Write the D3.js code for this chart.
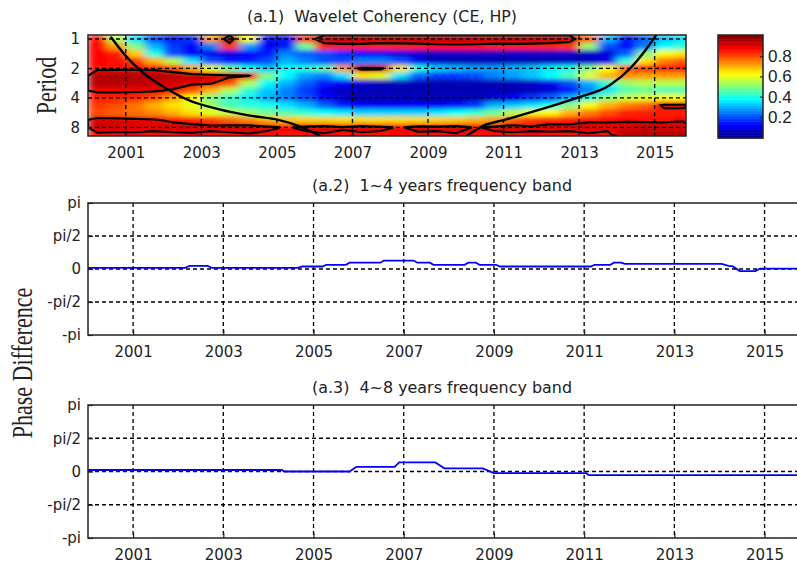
<!DOCTYPE html>
<html>
<head>
<meta charset="utf-8">
<script src="https://cdn.jsdelivr.net/npm/d3@7"></script>
<style>
  body { margin: 0; background: #fff; }
  svg { display: block; }
  text { font-family: "DejaVu Sans", Arial, sans-serif; fill: #222; white-space: pre; }
</style>
</head>
<body>
<div id="chart"></div>
<script>
// --- data ---
const yearTicks = [2001, 2003, 2005, 2007, 2009, 2011, 2013, 2015];
const periodTicks = [1, 2, 4, 8];
const cbarTicks = [0.2, 0.4, 0.6, 0.8];
const phaseTicks = [-Math.PI, -Math.PI / 2, 0, Math.PI / 2, Math.PI];
const phaseTickLabels = ["-pi", "-pi/2", "0", "pi/2", "pi"];

// heatmap cell centres (years) and rows (periods, top to bottom)
const cellYears = [2000.25, 2000.75, 2001.25, 2001.75, 2002.25, 2002.75, 2003.25, 2003.75,
  2004.25, 2004.75, 2005.25, 2005.75, 2006.25, 2006.75, 2007.25, 2007.75,
  2008.25, 2008.75, 2009.25, 2009.75, 2010.25, 2010.75, 2011.25, 2011.75,
  2012.25, 2012.75, 2013.25, 2013.75, 2014.25, 2014.75, 2015.25, 2015.75];
const periods = [1, 1.19, 1.41, 1.68, 2, 2.38, 2.83, 3.36, 4, 4.76, 5.66, 6.73, 8, 9.51];

// wavelet coherency, one row per period
const coherency = [
  [0.86,0.55,0.35,0.20,0.15,0.18,0.72,0.95,0.62,0.15,0.15,0.82,0.93,0.94,0.94,0.93,0.94,0.93,0.93,0.94,0.93,0.93,0.94,0.93,0.93,0.92,0.78,0.30,0.15,0.22,0.32,0.35],
  [0.87,0.72,0.50,0.30,0.18,0.12,0.25,0.82,0.28,0.12,0.15,0.48,0.84,0.85,0.85,0.84,0.84,0.85,0.86,0.86,0.86,0.85,0.85,0.85,0.84,0.82,0.52,0.20,0.12,0.25,0.38,0.42],
  [0.87,0.85,0.68,0.40,0.20,0.12,0.10,0.10,0.12,0.15,0.25,0.22,0.20,0.16,0.13,0.11,0.09,0.08,0.06,0.06,0.06,0.06,0.06,0.06,0.06,0.06,0.06,0.08,0.22,0.50,0.62,0.65],
  [0.87,0.86,0.82,0.70,0.55,0.35,0.20,0.15,0.15,0.20,0.30,0.25,0.20,0.20,0.25,0.25,0.20,0.10,0.06,0.04,0.04,0.04,0.04,0.04,0.05,0.06,0.06,0.10,0.40,0.65,0.75,0.78],
  [0.86,0.86,0.86,0.86,0.82,0.72,0.60,0.48,0.38,0.32,0.38,0.40,0.45,0.72,0.93,0.92,0.65,0.40,0.32,0.30,0.28,0.28,0.30,0.32,0.36,0.40,0.50,0.62,0.78,0.84,0.86,0.87],
  [0.95,0.96,0.96,0.95,0.94,0.93,0.92,0.90,0.89,0.50,0.38,0.28,0.25,0.35,0.65,0.60,0.35,0.22,0.18,0.18,0.20,0.25,0.28,0.32,0.38,0.45,0.60,0.70,0.74,0.72,0.72,0.72],
  [0.95,0.95,0.94,0.93,0.92,0.90,0.89,0.80,0.55,0.38,0.30,0.22,0.15,0.12,0.08,0.06,0.05,0.04,0.04,0.04,0.04,0.04,0.05,0.06,0.10,0.20,0.30,0.42,0.52,0.55,0.55,0.55],
  [0.89,0.89,0.89,0.89,0.87,0.80,0.70,0.55,0.42,0.32,0.25,0.18,0.10,0.05,0.04,0.04,0.04,0.04,0.04,0.04,0.04,0.04,0.04,0.05,0.08,0.15,0.25,0.35,0.45,0.48,0.45,0.45],
  [0.85,0.85,0.84,0.80,0.72,0.62,0.50,0.42,0.36,0.30,0.25,0.20,0.12,0.08,0.05,0.05,0.05,0.05,0.05,0.05,0.05,0.08,0.12,0.18,0.22,0.30,0.42,0.52,0.58,0.60,0.62,0.62],
  [0.82,0.80,0.76,0.70,0.65,0.60,0.52,0.45,0.42,0.40,0.35,0.30,0.22,0.15,0.12,0.12,0.12,0.12,0.12,0.14,0.18,0.30,0.32,0.35,0.40,0.50,0.62,0.70,0.75,0.78,0.90,0.90],
  [0.80,0.78,0.76,0.74,0.70,0.65,0.60,0.56,0.52,0.48,0.45,0.42,0.38,0.35,0.33,0.33,0.33,0.33,0.35,0.38,0.42,0.48,0.55,0.60,0.62,0.70,0.75,0.80,0.84,0.85,0.85,0.85],
  [0.91,0.91,0.90,0.89,0.86,0.84,0.82,0.78,0.74,0.70,0.68,0.67,0.67,0.66,0.66,0.66,0.66,0.66,0.67,0.68,0.70,0.72,0.78,0.82,0.84,0.85,0.86,0.87,0.87,0.86,0.86,0.87],
  [0.93,0.92,0.90,0.90,0.92,0.91,0.90,0.92,0.93,0.90,0.87,0.90,0.92,0.89,0.92,0.90,0.87,0.91,0.90,0.92,0.87,0.90,0.92,0.89,0.91,0.90,0.92,0.90,0.91,0.93,0.92,0.92],
  [0.86,0.86,0.87,0.86,0.86,0.87,0.86,0.86,0.87,0.86,0.86,0.86,0.87,0.86,0.86,0.86,0.87,0.86,0.86,0.87,0.86,0.86,0.86,0.87,0.86,0.86,0.87,0.86,0.95,0.95,0.95,0.95]
];

// cone of influence [year, period]
const coiYears = [2000.6, 2000.98, 2001.42, 2002.13, 2002.65, 2003.45, 2004.33, 2005.04, 2005.6, 2006.15, 2006.6,
  2009.6, 2010.0, 2010.5, 2011.03, 2011.8, 2012.94, 2013.82, 2014.35, 2014.79, 2015.05];
const coiPeriods = [0.95, 1.46, 2.15, 3.3, 4.2, 5.2, 6.1, 6.7, 7.8, 9.8, 11.5,
  11.5, 9.8, 7.6, 6.7, 5.5, 4.0, 2.95, 2.0, 1.25, 0.9];

// phase difference, 1~4 years band
const band14Years = [2000.0, 2002.15, 2002.25, 2002.65, 2002.75, 2004.65, 2004.75, 2005.2, 2005.28, 2005.72, 2005.8,
  2006.48, 2006.56, 2007.22, 2007.3, 2007.58, 2007.66, 2008.35, 2008.43, 2008.6, 2008.68, 2009.05, 2009.13,
  2011.15, 2011.23, 2011.58, 2011.66, 2011.82, 2011.9, 2014.05, 2014.2, 2014.3, 2014.45, 2014.8, 2014.9, 2015.85];
const band14Phase = [0.05, 0.05, 0.15, 0.15, 0.05, 0.05, 0.12, 0.12, 0.2, 0.2, 0.3,
  0.3, 0.4, 0.4, 0.3, 0.3, 0.2, 0.2, 0.3, 0.3, 0.2, 0.2, 0.12,
  0.12, 0.2, 0.2, 0.3, 0.3, 0.24, 0.24, 0.15, 0.12, -0.1, -0.1, 0.02, 0.02];

// phase difference, 4~8 years band
const band48Years = [2000.0, 2004.3, 2004.35, 2005.8, 2005.95, 2006.8, 2006.9, 2007.7, 2007.78, 2007.9,
  2008.75, 2009.0, 2011.05, 2011.1, 2015.85];
const band48Phase = [0.07, 0.07, 0.0, 0.0, 0.22, 0.22, 0.43, 0.43, 0.32, 0.15,
  0.15, -0.08, -0.08, -0.17, -0.17];

// --- drawing ---
const W = 797, H = 565;
const svg = d3.select("#chart").append("svg").attr("width", W).attr("height", H);
const defs = svg.append("defs");

const jet = d3.scaleLinear()
  .domain([0, 0.125, 0.375, 0.625, 0.875, 1])
  .range(["#00008f", "#0000ff", "#00ffff", "#ffff00", "#ff0000", "#800000"])
  .clamp(true);

const dash = "4,3";

// ===== (a.1) heatmap =====
const hm = { left: 88, right: 686, top: 35, bottom: 136 };
const x1 = d3.scaleLinear().domain([2000, 2015.83]).range([hm.left, hm.right]);
const y1 = d3.scaleLog().base(2).domain([0.91, 9.8]).range([hm.top, hm.bottom]);

defs.append("clipPath").attr("id", "clipHm")
  .append("rect").attr("x", hm.left).attr("y", hm.top)
  .attr("width", hm.right - hm.left).attr("height", hm.bottom - hm.top);

// soften the cell edges a little, like the shaded original
const blur = defs.append("filter").attr("id", "soft")
  .attr("x", 0).attr("y", 0).attr("width", 1).attr("height", 1);
blur.append("feGaussianBlur").attr("stdDeviation", "4.5 2").attr("edgeMode", "duplicate");

// cell edges from neighbouring centres
const nx = cellYears.length, ny = periods.length;
const xEdges = cellYears.map((c, i) => i === 0 ? c - (cellYears[1] - c) / 2 : (cellYears[i - 1] + c) / 2);
xEdges.push(cellYears[nx - 1] + (cellYears[nx - 1] - cellYears[nx - 2]) / 2);
const lp = periods.map(p => Math.log2(p));
const lEdges = lp.map((l, i) => i === 0 ? l - (lp[1] - l) / 2 : (lp[i - 1] + l) / 2);
lEdges.push(lp[ny - 1] + (lp[ny - 1] - lp[ny - 2]) / 2);

const gHm = svg.append("g").attr("clip-path", "url(#clipHm)");
const cells = [];
coherency.forEach((row, j) => row.forEach((v, i) => cells.push({ i, j, v })));
gHm.append("g").attr("filter", "url(#soft)")
  .selectAll("rect.cell").data(cells).join("rect")
  .attr("class", "cell")
  .attr("x", d => x1(xEdges[d.i]))
  .attr("y", d => y1(Math.pow(2, lEdges[d.j])))
  .attr("width", d => x1(xEdges[d.i + 1]) - x1(xEdges[d.i]) + 0.6)
  .attr("height", d => y1(Math.pow(2, lEdges[d.j + 1])) - y1(Math.pow(2, lEdges[d.j])) + 0.6)
  .attr("fill", d => jet(d.v));

// significance contours
const gx = d3.scaleLinear().domain([0, nx]).range([xEdges[0], xEdges[nx]]);
const gy = d3.scaleLinear().domain([0, ny]).range([lEdges[0], lEdges[ny]]);
const proj = d3.geoTransform({
  point(px, py) { this.stream.point(x1(gx(px)), y1(Math.pow(2, gy(py)))); }
});
const contours = d3.contours().size([nx, ny]).thresholds([0.88])(coherency.flat());
gHm.selectAll("path.ct").data(contours).join("path")
  .attr("class", "ct")
  .attr("d", d3.geoPath(proj))
  .attr("fill", "none").attr("stroke", "#000").attr("stroke-width", 2.2);

// cone of influence
const coi = coiYears.map((y, i) => [y, coiPeriods[i]]);
gHm.append("path")
  .attr("d", d3.line().x(d => x1(d[0])).y(d => y1(d[1])).curve(d3.curveMonotoneX)(coi))
  .attr("fill", "none").attr("stroke", "#000").attr("stroke-width", 2.4);

// grid
gHm.selectAll("line.vg").data(yearTicks).join("line")
  .attr("x1", d => x1(d)).attr("x2", d => x1(d)).attr("y1", hm.top).attr("y2", hm.bottom)
  .attr("stroke", "#000").attr("stroke-width", 1.3).attr("stroke-dasharray", dash);
gHm.selectAll("line.hg").data(periodTicks).join("line")
  .attr("x1", hm.left).attr("x2", hm.right).attr("y1", d => y1(d)).attr("y2", d => y1(d))
  .attr("stroke", "#000").attr("stroke-width", 1.3).attr("stroke-dasharray", dash);

svg.append("rect").attr("x", hm.left).attr("y", hm.top)
  .attr("width", hm.right - hm.left).attr("height", hm.bottom - hm.top)
  .attr("fill", "none").attr("stroke", "#222").attr("stroke-width", 1.5);

svg.append("g").attr("transform", `translate(0,${hm.bottom})`)
  .call(d3.axisBottom(x1).tickValues(yearTicks).tickFormat(d3.format("d")).tickSize(-4).tickPadding(11));
svg.append("g").attr("transform", `translate(${hm.left},0)`)
  .call(d3.axisLeft(y1).tickValues(periodTicks).tickFormat(d3.format("d")).tickSize(-4).tickPadding(8));

svg.append("text").attr("x", 382).attr("y", 22)
  .attr("text-anchor", "middle").style("font-size", "15px")
  .attr("textLength", 270).attr("lengthAdjust", "spacingAndGlyphs")
  .text("(a.1)  Wavelet Coherency (CE, HP)");

svg.append("text")
  .attr("transform", `translate(56,${(hm.top + hm.bottom) / 2}) scale(1.3,1) rotate(-90)`)
  .attr("text-anchor", "middle")
  .style("font-family", "'Liberation Serif', 'Times New Roman', serif").style("font-size", "22px")
  .text("Period");

// colorbar
const cb = { left: 718, right: 763, top: 35, bottom: 138 };
const yc = d3.scaleLinear().domain([0, 1]).range([137, 36]);
const levels = d3.range(64).map(k => k / 64);
svg.append("g").selectAll("rect").data(levels).join("rect")
  .attr("x", cb.left).attr("width", cb.right - cb.left)
  .attr("y", d => d === levels[levels.length - 1] ? cb.top : yc(d + 1 / 64))
  .attr("height", d => (d === 0 ? cb.bottom : yc(d)) - (d === levels[levels.length - 1] ? cb.top : yc(d + 1 / 64)) + 0.5)
  .attr("fill", d => jet(d + 1 / 128));
svg.append("rect").attr("x", cb.left).attr("y", cb.top)
  .attr("width", cb.right - cb.left).attr("height", cb.bottom - cb.top)
  .attr("fill", "none").attr("stroke", "#222").attr("stroke-width", 1.5);
const axC = svg.append("g").attr("transform", `translate(${cb.right},0)`)
  .call(d3.axisRight(yc).tickValues(cbarTicks).tickFormat(d3.format(".1f")).tickSize(-3).tickPadding(5));
axC.selectAll("text").style("font-size", "17px").style("font-family", "'Liberation Sans', Arial, sans-serif");

// ===== phase panels =====
function phasePanel(top, bottom, title, years, phase) {
  const p = { left: 88, right: 802, top, bottom };
  const x = d3.scaleLinear().domain([2000, 2015.83]).range([p.left, p.right]);
  const y = d3.scaleLinear().domain([-Math.PI, Math.PI]).range([p.bottom, p.top]);
  const g = svg.append("g");

  g.selectAll("line.vg").data(yearTicks).join("line")
    .attr("x1", d => x(d)).attr("x2", d => x(d)).attr("y1", p.top).attr("y2", p.bottom)
    .attr("stroke", "#000").attr("stroke-width", 1.3).attr("stroke-dasharray", dash);
  g.selectAll("line.hg").data(phaseTicks.slice(1, 4)).join("line")
    .attr("x1", p.left).attr("x2", p.right).attr("y1", d => y(d)).attr("y2", d => y(d))
    .attr("stroke", "#000").attr("stroke-width", 1.3).attr("stroke-dasharray", dash);

  const pts = years.map((t, i) => [t, phase[i]]);
  g.append("path")
    .attr("d", d3.line().x(d => x(d[0])).y(d => y(d[1]))(pts))
    .attr("fill", "none").attr("stroke", "#0000ff").attr("stroke-width", 1.8);

  g.append("rect").attr("x", p.left).attr("y", p.top)
    .attr("width", p.right - p.left).attr("height", p.bottom - p.top)
    .attr("fill", "none").attr("stroke", "#222").attr("stroke-width", 1.5);

  g.append("g").attr("transform", `translate(0,${p.bottom})`)
    .call(d3.axisBottom(x).tickValues(yearTicks).tickFormat(d3.format("d")).tickSize(-5).tickPadding(11));
  g.append("g").attr("transform", `translate(${p.left},0)`)
    .call(d3.axisLeft(y).tickValues(phaseTicks).tickFormat((d, i) => phaseTickLabels[i]).tickSize(-5).tickPadding(7));

  g.append("text").attr("x", 442).attr("y", top - 12)
    .attr("text-anchor", "middle").style("font-size", "15px")
    .attr("textLength", 260).attr("lengthAdjust", "spacingAndGlyphs")
    .text(title);
}

phasePanel(203, 335, "(a.2)  1~4 years frequency band", band14Years, band14Phase);
phasePanel(405, 538, "(a.3)  4~8 years frequency band", band48Years, band48Phase);

svg.append("text")
  .attr("transform", `translate(32,363) scale(1.3,1) rotate(-90)`)
  .attr("text-anchor", "middle")
  .style("font-family", "'Liberation Serif', 'Times New Roman', serif").style("font-size", "22px")
  .text("Phase Difference");

// common axis styling
svg.selectAll(".domain").remove();
svg.selectAll(".tick line").attr("stroke", "#222").attr("stroke-width", 1.2);
svg.selectAll(".tick text").filter(function () { return !this.style.fontSize; })
  .style("font-size", "15px").style("font-family", "'DejaVu Sans', Arial, sans-serif").attr("fill", "#222");
</script>
</body>
</html>
